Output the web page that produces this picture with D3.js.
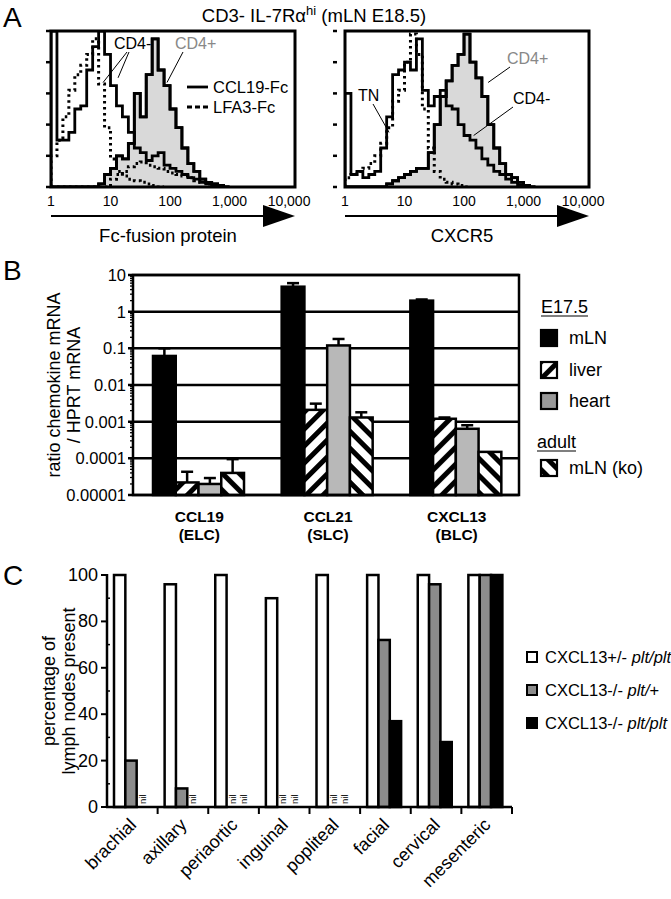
<!DOCTYPE html>
<html><head><meta charset="utf-8">
<script src="https://cdn.jsdelivr.net/npm/d3@7"></script>
<style>
body{margin:0;background:#fff}
svg{display:block}
text{font-family:"Liberation Sans",Arial,Helvetica,sans-serif;fill:#000}
</style>
</head><body>
<svg id="c" width="671" height="899"></svg>
<script>
// ================= DATA =================
// Panel A: flow histograms, counts (% of max) per log bin (10 bins per decade, starting at 1)
const binsPerDecade = 10;
const histTicks = [1, 10, 100, 1000, 10000];
const histTickLabels = ["1", "10", "100", "1,000", "10,000"];
const histYTicks = [0, 20, 40, 60, 80, 100];

const fcCD4negCCL19 = [100,30,30,35,50,52,75,90,100,85,65,52,45,35,25,22,17,20,22,14,12,10,8,6,5,3,2,1,0];
const fcCD4negLFA3  = [20,30,45,62,72,78,85,95,66,38,18,10,7,5,4,3,2,1,0];
const fcCD4posCCL19 = [0,0,0,0,0,0,0,0,2,8,12,20,18,28,60,45,72,95,75,65,50,38,25,15,10,5,3,2,1,0];
const fcCD4posLFA3  = [0,0,0,0,0,0,0,0,0,0,5,8,10,13,15,16,14,13,12,10,9,8,7,6,4,3,2,0];

const cxcr5CD4neg = [60,8,10,6,8,10,25,45,72,75,80,75,95,62,52,58,62,52,50,40,33,30,25,18,14,10,8,5,3,1,0];
const cxcr5TN     = [6,8,10,12,15,20,28,38,55,62,80,98,85,50,25,10,5,3,2,1,0];
const cxcr5CD4pos = [0,0,0,0,0,0,0,2,4,6,8,10,12,12,22,40,58,68,78,85,98,80,70,58,40,25,15,8,6,3,1,0];

// Panel B: chemokine mRNA ratios (log scale)
const genes = ["CCL19", "CCL21", "CXCL13"];
const geneAliases = ["(ELC)", "(SLC)", "(BLC)"];
const tissues = ["mLN", "liver", "heart", "mLN (ko)"];
const mLNValues   = [0.062, 4.8, 2.0];
const liverValues = [2.2e-5, 0.0021, 0.0012];
const heartValues = [2.0e-5, 0.12, 0.00064];
const koValues    = [4.0e-5, 0.0013, 0.00015];
const mLNErr   = [0.1, 6.0, 2.15];
const liverErr = [4.3e-5, 0.0031, 0.0013];
const heartErr = [2.9e-5, 0.18, 0.0008];
const koErr    = [9.5e-5, 0.0018, null];
const bTicks = [1e-5, 1e-4, 1e-3, 1e-2, 1e-1, 1, 10];
const bTickLabels = ["0.00001", "0.0001", "0.001", "0.01", "0.1", "1", "10"];

// Panel C: percentage of lymph nodes present (null = nil)
const nodes = ["brachial","axillary","periaortic","inguinal","popliteal","facial","cervical","mesenteric"];
const hetPltPlt = [100, 96, 100, 90, 100, 100, 100, 100];
const koPltHet  = [20, 8, null, null, null, 72, 96, 100];
const koPltPlt  = [null, null, null, null, null, 37, 28, 100];
const cTicks = [0, 20, 40, 60, 80, 100];
const cMinorTicks = [10, 30, 50, 70, 90];

// ================= DRAW =================
const svg = d3.select("#c");
svg.append("rect").attr("width", 671).attr("height", 899).attr("fill", "#fff");
const defs = svg.append("defs");

function stripe(id, angle) {
  const p = defs.append("pattern").attr("id", id).attr("patternUnits", "userSpaceOnUse")
    .attr("width", 12).attr("height", 12).attr("patternTransform", `rotate(${angle})`);
  p.append("rect").attr("width", 12).attr("height", 12).attr("fill", "#fff");
  p.append("rect").attr("width", 5).attr("height", 12).attr("fill", "#000");
}
stripe("liverPat", 45);
stripe("koPat", -45);

// panel letters
[["A", 27], ["B", 280], ["C", 585]].forEach(([t, y]) =>
  svg.append("text").attr("x", 3).attr("y", y).attr("font-size", 28).text(t));

// ---------- Panel A ----------
const title = svg.append("text").attr("x", 314).attr("y", 22).attr("text-anchor", "middle").attr("font-size", 18.5);
title.append("tspan").text("CD3- IL-7Rα");
title.append("tspan").attr("font-size", 13).attr("dy", -7).text("hi");
title.append("tspan").attr("dy", 7).text(" (mLN E18.5)");

const boxTop = 31, boxBot = 187, boxW = 244;
const yA = d3.scaleLinear().domain([0, 100]).range([boxBot, boxTop]);

function histPts(arr) {
  const pts = [[1, 0]];
  arr.forEach((v, i) => pts.push([Math.pow(10, i / binsPerDecade), v]));
  pts.push([Math.pow(10, arr.length / binsPerDecade), 0]);
  return pts;
}

function histPanel(x0, id, curves, axisLabel, tickOff) {
  const g = svg.append("g");
  const xA = d3.scaleLog().domain([1, Math.pow(10, 4.1)]).range([x0, x0 + boxW]);
  defs.append("clipPath").attr("id", id).append("rect")
    .attr("x", x0).attr("y", boxTop).attr("width", boxW).attr("height", boxBot - boxTop);
  const line = d3.line().x(d => xA(d[0])).y(d => yA(d[1])).curve(d3.curveStepAfter);
  const area = d3.area().x(d => xA(d[0])).y0(yA(0)).y1(d => yA(d[1])).curve(d3.curveStepAfter);
  const cg = g.append("g").attr("clip-path", `url(#${id})`);
  curves.forEach(c => {
    if (c.fill) cg.append("path").attr("d", area(histPts(c.data))).attr("fill", "#d9d9d9");
  });
  curves.forEach(c => {
    const p = cg.append("path").attr("d", line(histPts(c.data))).attr("fill", "none")
      .attr("stroke", "#000").attr("stroke-width", c.dotted ? 3 : 2.8).attr("stroke-linejoin", "miter");
    if (c.dotted) p.attr("stroke-dasharray", "2.5,3.5");
  });
  g.append("rect").attr("x", x0).attr("y", boxTop).attr("width", boxW).attr("height", boxBot - boxTop)
    .attr("fill", "none").attr("stroke", "#000").attr("stroke-width", 3);
  // y ticks
  g.selectAll("line.yt").data(histYTicks).join("line")
    .attr("x1", x0 - tickOff - 4).attr("x2", x0 - tickOff).attr("y1", d => yA(d)).attr("y2", d => yA(d))
    .attr("stroke", "#000").attr("stroke-width", 2.5);
  // x tick labels
  g.selectAll("text.xt").data(histTicks).join("text")
    .attr("x", d => xA(d)).attr("y", 206).attr("text-anchor", "middle").attr("font-size", 14)
    .text((d, i) => histTickLabels[i]);
  // arrow
  g.append("line").attr("x1", x0).attr("x2", x0 + 214).attr("y1", 216).attr("y2", 216)
    .attr("stroke", "#000").attr("stroke-width", 2);
  g.append("path").attr("d", `M${x0 + 212},205 L${x0 + 244},216 L${x0 + 212},227 Z`).attr("fill", "#000");
  g.append("text").attr("x", x0 + 117).attr("y", 242).attr("text-anchor", "middle").attr("font-size", 18.5).text(axisLabel);
  return {g, xA};
}

const left = histPanel(51, "clipL", [
  {data: fcCD4posCCL19, fill: true},
  {data: fcCD4negLFA3, dotted: true},
  {data: fcCD4posLFA3, dotted: true},
  {data: fcCD4negCCL19},
  {data: fcCD4posCCL19}
], "Fc-fusion protein", 1);

const right = histPanel(345, "clipR", [
  {data: cxcr5CD4pos, fill: true},
  {data: cxcr5TN, dotted: true},
  {data: cxcr5CD4neg},
  {data: cxcr5CD4pos}
], "CXCR5", 8);

function annot(g, tx, ty, text, color, lines) {
  g.append("text").attr("x", tx).attr("y", ty).attr("font-size", 16).attr("dominant-baseline", "central")
    .style("fill", color).text(text);
  lines.forEach(l => g.append("line").attr("x1", l[0]).attr("y1", l[1]).attr("x2", l[2]).attr("y2", l[3])
    .attr("stroke", "#000").attr("stroke-width", 1));
}
{
  const xA = left.xA;
  annot(left.g, 114, 43, "CD4-", "#000", [[127, 52, xA(7.5), yA(67)], [129, 52, xA(13.4), yA(70)]]);
  annot(left.g, 175, 43, "CD4+", "#888", [[183, 52, xA(89), yA(67)]]);
  left.g.append("line").attr("x1", 187).attr("x2", 208).attr("y1", 87).attr("y2", 87).attr("stroke", "#000").attr("stroke-width", 2.8);
  left.g.append("text").attr("x", 213).attr("y", 87).attr("dominant-baseline", "central").attr("font-size", 16.5).text("CCL19-Fc");
  left.g.append("line").attr("x1", 187).attr("x2", 208).attr("y1", 107).attr("y2", 107).attr("stroke", "#000").attr("stroke-width", 2.8).attr("stroke-dasharray", "5,3");
  left.g.append("text").attr("x", 213).attr("y", 107).attr("dominant-baseline", "central").attr("font-size", 16.5).text("LFA3-Fc");
}
{
  const xA = right.xA;
  annot(right.g, 358, 95, "TN", "#000", [[373, 104, xA(5.5), yA(35)]]);
  annot(right.g, 507, 58, "CD4+", "#888", [[510, 67, xA(254), yA(67)]]);
  annot(right.g, 513, 98, "CD4-", "#000", [[513, 107, xA(145), yA(33)]]);
}

// ---------- Panel B ----------
const gB = svg.append("g");
const yB = d3.scaleLog().domain([1e-5, 10]).range([495, 275]);
const xB = d3.scaleBand().domain(genes).range([133, 519]);
const xBi = d3.scaleBand().domain(tissues).range([20, 111]);
const bSeries = [
  {name: "mLN", values: mLNValues, err: mLNErr, fill: "#000"},
  {name: "liver", values: liverValues, err: liverErr, fill: "url(#liverPat)"},
  {name: "heart", values: heartValues, err: heartErr, fill: "#b8b8b8"},
  {name: "mLN (ko)", values: koValues, err: koErr, fill: "url(#koPat)"}
];
// minor ticks
const minor = [];
bTicks.slice(0, -1).forEach(d => { for (let k = 2; k <= 9; k++) minor.push(d * k); });
gB.selectAll("line.mn").data(minor).join("line")
  .attr("x1", 130).attr("x2", 134).attr("y1", d => yB(d)).attr("y2", d => yB(d))
  .attr("stroke", "#000").attr("stroke-width", 1.3);
// gridlines
gB.selectAll("line.gr").data(bTicks).join("line")
  .attr("x1", 128).attr("x2", 519).attr("y1", d => yB(d)).attr("y2", d => yB(d))
  .attr("stroke", "#000").attr("stroke-width", 2.5);
gB.selectAll("text.yt").data(bTicks).join("text")
  .attr("x", 126).attr("y", d => yB(d)).attr("text-anchor", "end").attr("dominant-baseline", "central")
  .attr("font-size", 16.5).text((d, i) => bTickLabels[i]);
// bars
bSeries.forEach(s => {
  genes.forEach((gname, i) => {
    const x = xB(gname) + xBi(s.name), w = xBi.bandwidth();
    gB.append("rect").attr("x", x).attr("y", yB(s.values[i])).attr("width", w)
      .attr("height", yB(1e-5) - yB(s.values[i])).attr("fill", s.fill)
      .attr("stroke", "#000").attr("stroke-width", 2.5);
    if (s.err[i] != null) {
      const cx = x + w / 2;
      gB.append("line").attr("x1", cx).attr("x2", cx).attr("y1", yB(s.values[i])).attr("y2", yB(s.err[i]))
        .attr("stroke", "#000").attr("stroke-width", 2.5);
      gB.append("line").attr("x1", cx - 6).attr("x2", cx + 6).attr("y1", yB(s.err[i])).attr("y2", yB(s.err[i]))
        .attr("stroke", "#000").attr("stroke-width", 2.5);
    }
  });
});
gB.append("rect").attr("x", 133).attr("y", yB(10)).attr("width", 386).attr("height", yB(1e-5) - yB(10))
  .attr("fill", "none").attr("stroke", "#000").attr("stroke-width", 2.5);
genes.forEach((gname, i) => {
  const cx = xB(gname) + xB.bandwidth() / 2 + 2;
  gB.append("text").attr("x", cx).attr("y", 522).attr("text-anchor", "middle").attr("font-weight", "bold").attr("font-size", 15.5).text(gname);
  gB.append("text").attr("x", cx).attr("y", 540).attr("text-anchor", "middle").attr("font-weight", "bold").attr("font-size", 15.5).text(geneAliases[i]);
});
// y label
const bl = gB.append("text").attr("transform", "translate(60,385) rotate(-90)").attr("text-anchor", "middle").attr("font-size", 18);
bl.append("tspan").attr("x", 0).attr("dy", 0).text("ratio chemokine mRNA");
bl.append("tspan").attr("x", 0).attr("dy", 20).text("/ HPRT mRNA");
// legend
function heading(x, y, t) {
  const tx = gB.append("text").attr("x", x).attr("y", y).attr("font-size", 18).text(t);
  const w = tx.node().getComputedTextLength();
  gB.append("line").attr("x1", x).attr("x2", x + w).attr("y1", y + 3).attr("y2", y + 3).attr("stroke", "#000").attr("stroke-width", 1.2);
}
heading(541, 313, "E17.5");
heading(537, 448, "adult");
const legY = [338, 370, 401, 468];
bSeries.forEach((s, i) => {
  gB.append("rect").attr("x", 541).attr("y", legY[i] - 8).attr("width", 16).attr("height", 16)
    .attr("fill", s.name === "heart" ? "#999" : s.fill).attr("stroke", "#000").attr("stroke-width", 2.2);
  gB.append("text").attr("x", 569).attr("y", legY[i]).attr("dominant-baseline", "central").attr("font-size", 18).text(s.name);
});

// ---------- Panel C ----------
const gC = svg.append("g");
const yC = d3.scaleLinear().domain([0, 100]).range([807, 575]);
const xC = d3.scaleBand().domain(nodes).range([107, 512]);
const cSeries = [
  {key: "het", values: hetPltPlt, fill: "#fff", pre: "CXCL13+/- ", it: "plt/plt", post: ""},
  {key: "kohet", values: koPltHet, fill: "#8c8c8c", pre: "CXCL13-/- ", it: "plt/", post: "+"},
  {key: "ko", values: koPltPlt, fill: "#000", pre: "CXCL13-/- ", it: "plt/plt", post: ""}
];
const xCi = d3.scaleBand().domain(cSeries.map(s => s.key)).range([7, 41]);
cSeries.forEach(s => {
  nodes.forEach((n, i) => {
    const x = xC(n) + xCi(s.key), w = xCi.bandwidth();
    const v = s.values[i];
    if (v == null) {
      gC.append("text").attr("transform", `translate(${x + w / 2 + 3.5},${yC(0) - 3}) rotate(-90)`)
        .attr("font-size", 9.5).text("nil");
    } else {
      gC.append("rect").attr("x", x).attr("y", yC(v)).attr("width", w).attr("height", yC(0) - yC(v))
        .attr("fill", s.fill).attr("stroke", "#000").attr("stroke-width", 2.5);
    }
  });
});
gC.append("line").attr("x1", 107).attr("x2", 107).attr("y1", yC(100) - 1).attr("y2", yC(0) + 1).attr("stroke", "#000").attr("stroke-width", 2.5);
gC.append("line").attr("x1", 106).attr("x2", 512).attr("y1", yC(0)).attr("y2", yC(0)).attr("stroke", "#000").attr("stroke-width", 2.5);
gC.selectAll("line.yt").data(cTicks).join("line").attr("x1", 101).attr("x2", 107)
  .attr("y1", d => yC(d)).attr("y2", d => yC(d)).attr("stroke", "#000").attr("stroke-width", 2);
gC.selectAll("line.ym").data(cMinorTicks).join("line").attr("x1", 107).attr("x2", 110)
  .attr("y1", d => yC(d)).attr("y2", d => yC(d)).attr("stroke", "#000").attr("stroke-width", 1.5);
gC.selectAll("text.yt").data(cTicks).join("text").attr("x", 98).attr("y", d => yC(d))
  .attr("text-anchor", "end").attr("dominant-baseline", "central").attr("font-size", 18).text(d => d);
gC.selectAll("line.xt").data(nodes).join("line")
  .attr("x1", d => xC(d) + xC.bandwidth()).attr("x2", d => xC(d) + xC.bandwidth())
  .attr("y1", yC(0)).attr("y2", yC(0) + 7).attr("stroke", "#000").attr("stroke-width", 2);
gC.selectAll("text.xl").data(nodes).join("text")
  .attr("transform", d => `translate(${xC(d) + xC.bandwidth() / 2 + 5},826) rotate(-45)`)
  .attr("text-anchor", "end").attr("font-size", 18).text(d => d);
const cl = gC.append("text").attr("transform", "translate(55,691) rotate(-90)").attr("text-anchor", "middle").attr("font-size", 18);
cl.append("tspan").attr("x", 0).attr("dy", 0).text("percentage of");
cl.append("tspan").attr("x", 0).attr("dy", 20).text("lymph nodes present");
const cLegY = [657, 690, 723];
cSeries.forEach((s, i) => {
  gC.append("rect").attr("x", 527).attr("y", cLegY[i] - 5).attr("width", 10).attr("height", 10)
    .attr("fill", s.fill).attr("stroke", "#000").attr("stroke-width", 2);
  const t = gC.append("text").attr("x", 545).attr("y", cLegY[i]).attr("dominant-baseline", "central").attr("font-size", 16.5);
  t.append("tspan").text(s.pre);
  t.append("tspan").attr("font-style", "italic").text(s.it);
  if (s.post) t.append("tspan").text(s.post);
});
</script>
</body></html>
